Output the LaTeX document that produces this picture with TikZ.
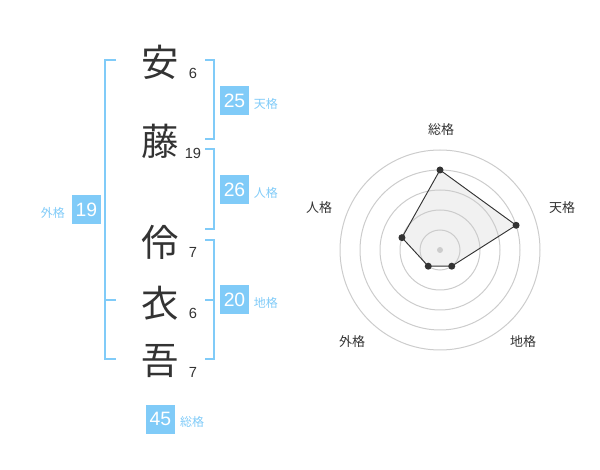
\documentclass[tikz,border=0pt]{standalone}
\usepackage{fontspec}
\setmainfont{Liberation Sans}
\newfontfamily\cjk{Noto Sans CJK JP}
\usetikzlibrary{positioning}
\definecolor{kakublue}{HTML}{80CBF8}
\definecolor{inkgray}{HTML}{333333}
\definecolor{ringgray}{HTML}{CCCCCC}
\definecolor{areagray}{HTML}{F1F1F1}

\begin{document}
\begin{tikzpicture}[x=0.75pt,y=-0.75pt,
  kanji/.style = {font=\cjk\fontsize{28}{28}\selectfont, text=inkgray, inner sep=0pt},
  strokes/.style = {font=\fontsize{11}{11}\selectfont, text=inkgray, inner sep=0pt},
  score/.style = {fill=kakublue, text=white, minimum size=21.75pt, inner sep=0pt, font=\fontsize{14.5}{14.5}\selectfont},
  kaku/.style = {font=\cjk\fontsize{9}{9}\selectfont, text=kakublue, inner sep=0pt},
  axislabel/.style = {font=\cjk\fontsize{9.75}{9.75}\selectfont, text=inkgray, inner sep=0pt},
  bracket/.style = {draw=kakublue, line width=1.6pt},
  ring/.style = {draw=ringgray, line width=0.75pt},
  dot/.style = {circle, fill=inkgray, inner sep=0pt, minimum size=5.25pt}]
\useasboundingbox (0,0) rectangle (600,470);

% name
\node[kanji] (k1) at (160,62) {安};
\node[kanji] (k2) at (160,141) {藤};
\node[kanji] (k3) at (160,242) {伶};
\node[kanji] (k4) at (160,303) {衣};
\node[kanji] (k5) at (160,361) {吾};
\node[strokes] (n1) at (193,73) {6};
\node[strokes] (n2) at (193,153) {19};
\node[strokes] (n3) at (193,252) {7};
\node[strokes] (n4) at (193,313) {6};
\node[strokes] (n5) at (193,372) {7};

% brackets
\draw[bracket] (116,60) -- (105,60) -- (105,359) -- (116,359);
\draw[bracket] (105,300) -- (116,300);
\draw[bracket] (205,60) -- (214,60) -- (214,139) -- (205,139);
\draw[bracket] (205,149) -- (214,149) -- (214,229) -- (205,229);
\draw[bracket] (205,240) -- (214,240) -- (214,359) -- (205,359);
\draw[bracket] (205,300) -- (214,300);

% scores
\node[score] (s25) at (234.5,100.5) {25};
\node[kaku] (t25) [right=3.3pt of s25, yshift=-2.5pt] {天格};
\node[score] (s26) at (234.5,190) {26};
\node[kaku] (t26) [right=3.3pt of s26, yshift=-2.5pt] {人格};
\node[score] (s20) at (234.5,300) {20};
\node[kaku] (t20) [right=3.3pt of s20, yshift=-2.5pt] {地格};
\node[score] (s19) at (86.5,210) {19};
\node[kaku] (t19) [left=5pt of s19, yshift=-2.5pt] {外格};
\node[score] (s45) at (160.5,419) {45};
\node[kaku] (t45) [right=3.5pt of s45, yshift=-2.5pt] {総格};

% radar
\coordinate (c) at (440,250);
\coordinate (r1) at ([shift={(-90:80)}]c);
\coordinate (r2) at ([shift={(-18:80)}]c);
\coordinate (r3) at ([shift={(54:20)}]c);
\coordinate (r4) at ([shift={(126:20)}]c);
\coordinate (r5) at ([shift={(198:40)}]c);
\fill[areagray] (r1) -- (r2) -- (r3) -- (r4) -- (r5) -- cycle;
\foreach \r in {20,40,60,80,100}
  \draw[ring] (c) circle (\r);
\draw[inkgray, line width=0.7pt] (r1) -- (r2) -- (r3) -- (r4) -- (r5) -- cycle;
\node[circle, fill=ringgray, inner sep=0pt, minimum size=4.5pt] (c0) at (c) {};
\node[dot] (d1) at (r1) {};
\node[dot] (d2) at (r2) {};
\node[dot] (d3) at (r3) {};
\node[dot] (d4) at (r4) {};
\node[dot] (d5) at (r5) {};
\node[axislabel] (a1) at (441,130) {総格};
\node[axislabel] (a2) at (562,208) {天格};
\node[axislabel] (a3) at (523,342) {地格};
\node[axislabel] (a4) at (352,342) {外格};
\node[axislabel] (a5) at (319,208) {人格};
\end{tikzpicture}
\end{document}
